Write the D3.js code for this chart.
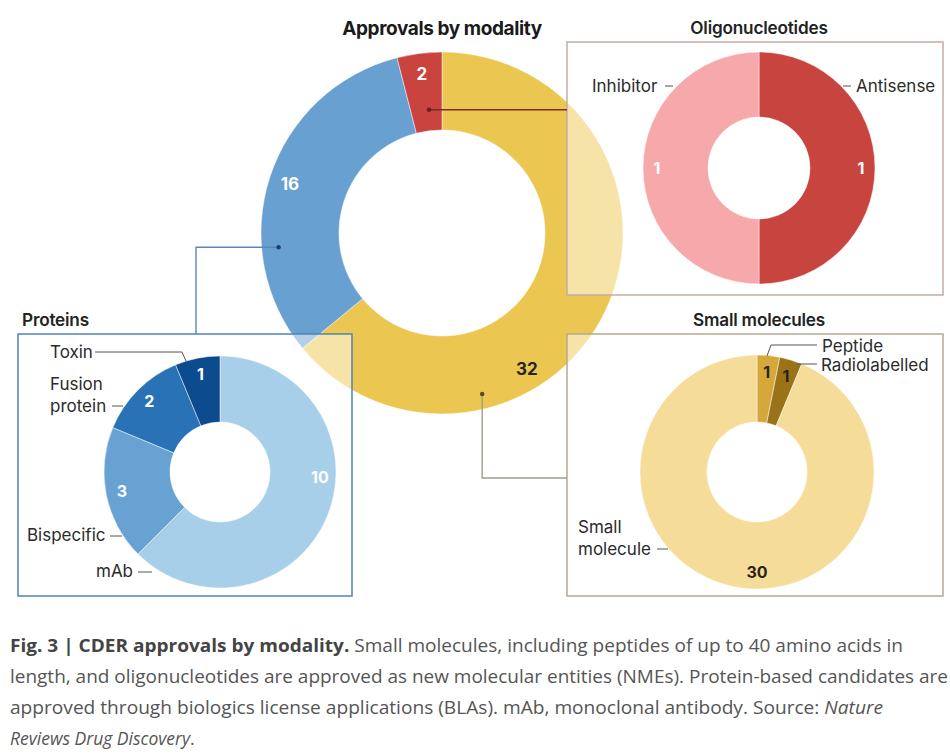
<!DOCTYPE html>
<html>
<head>
<meta charset="utf-8">
<script src="https://cdn.jsdelivr.net/npm/d3@7"></script>
<style>
  body { margin: 0; background: #fff; }
  svg { display: block; }
</style>
</head>
<body>
<svg id="chart" width="950" height="756"></svg>
<script>
// main ring
const mainCats = ["Small molecules", "Proteins", "Oligonucleotides"];
const mainValues = [32, 16, 2];
const mainColors = ["#ebc650", "#68a1d1", "#c9433f"];

// proteins
const proteinCats = ["mAb", "Bispecific", "Fusion protein", "Toxin"];
const proteinValues = [10, 3, 2, 1];
const proteinColors = ["#a8cfea", "#67a2d3", "#2a72b6", "#0c4b8e"];

// oligonucleotides
const oligoCats = ["Antisense", "Inhibitor"];
const oligoValues = [1, 1];
const oligoColors = ["#c8453f", "#f6a8ab"];

// small molecules
const smallCats = ["Peptide", "Radiolabelled", "Small molecule"];
const smallValues = [1, 1, 30];
const smallColors = ["#d6a73a", "#9a7319", "#f5dc98"];

const captionLines = [
    [["b", "Fig. 3 | CDER approvals by modality."], ["r", " Small molecules, including peptides of up to 40 amino acids in"]],
    [["r", "length, and oligonucleotides are approved as new molecular entities (NMEs). Protein-based candidates are"]],
    [["r", "approved through biologics license applications (BLAs). mAb, monoclonal antibody. Source: "], ["i", "Nature"]],
    [["i", "Reviews Drug Discovery"], ["r", "."]],
];

const svg = d3.select("#chart");
const font = "Inter, 'Noto Sans', sans-serif";
const rad = (deg) => (deg * Math.PI) / 180;

function polar(cx, cy, r, deg) {
    return [cx + r * Math.sin(rad(deg)), cy - r * Math.cos(rad(deg))];
}

function drawDonut(g, cats, values, colors, opt) {
    const pie = d3.pie().sort(null).value((d) => d)(values);
    const arc = d3.arc().innerRadius(opt.inner).outerRadius(opt.outer);
    g.selectAll("path")
        .data(pie)
        .join("path")
        .attr("d", arc)
        .attr("fill", (d, i) => colors[i])
        .attr("stroke", "#fff")
        .attr("stroke-opacity", 0.6)
        .attr("stroke-width", 0.8)
        .append("title")
        .text((d, i) => `${cats[i]}: ${d.value}`);

    const labelArc = d3.arc().innerRadius(opt.labelR).outerRadius(opt.labelR);
    g.selectAll("text.val")
        .data(pie)
        .join("text")
        .attr("class", "val")
        .attr("transform", (d, i) => {
            const a = opt.labelAngle && opt.labelAngle[i] != null ? opt.labelAngle[i] : null;
            if (a == null) return `translate(${labelArc.centroid(d)})`;
            return `translate(${polar(0, 0, opt.labelR, a)})`;
        })
        .attr("text-anchor", "middle")
        .attr("dy", "0.36em")
        .attr("font-family", font)
        .attr("font-weight", 700)
        .attr("font-size", opt.fontSize || 16)
        .attr("fill", (d, i) => opt.textColors[i])
        .text((d) => d.value);
    return pie;
}

// ---- main donut
const mainC = [442, 233];
const gMain = svg.append("g").attr("transform", `translate(${mainC})`);
drawDonut(gMain, mainCats, mainValues, mainColors, {
    inner: 103,
    outer: 181,
    labelR: 160,
    labelAngle: [148, null, null],
    fontSize: 17,
    textColors: ["#2a2418", "#fff", "#fff"],
});

// ---- inset boxes (semi-transparent white over main ring)
const boxes = [
    { name: "Oligonucleotides", x: 567, y: 42, w: 376, h: 253, stroke: "#c5aaa6", title: "middle" },
    { name: "Proteins", x: 18, y: 334, w: 334, h: 262, stroke: "#4f82b6", title: "start" },
    { name: "Small molecules", x: 567, y: 334, w: 376, h: 262, stroke: "#b4a992", title: "middle" },
];
boxes.forEach((b) => {
    svg.append("rect")
        .attr("x", b.x)
        .attr("y", b.y)
        .attr("width", b.w)
        .attr("height", b.h)
        .attr("fill", "#fff")
        .attr("fill-opacity", 0.5)
        .attr("stroke", b.stroke)
        .attr("stroke-width", 1.5);
    svg.append("text")
        .attr("x", b.title === "middle" ? b.x + b.w / 2 + 4 : b.x + 4)
        .attr("y", b.y - 8)
        .attr("text-anchor", b.title)
        .attr("font-family", font)
        .attr("font-weight", 600)
        .attr("font-size", 17.2)
        .attr("letter-spacing", -0.2)
        .attr("fill", "#222")
        .text(b.name);
});

svg.append("text")
    .attr("x", 442)
    .attr("y", 35)
    .attr("text-anchor", "middle")
    .attr("font-family", font)
    .attr("font-weight", 700)
    .attr("font-size", 19)
    .attr("letter-spacing", -0.4)
    .attr("fill", "#1a1a1a")
    .text("Approvals by modality");

// ---- connectors
const connectors = [
    { angle: -6, r: 124, stroke: "#7b2d2b", dot: "#6b1e1c", pts: (p) => [p, [567, p[1]]] },
    { angle: 265, r: 164, stroke: "#5a87b8", dot: "#1c3f6b", pts: (p) => [p, [196, p[1]], [196, 334]] },
    { angle: 166, r: 166, stroke: "#a39c8e", dot: "#5a4a2a", pts: (p) => [p, [p[0], 478], [567, 478]] },
];
connectors.forEach((c) => {
    const p = polar(mainC[0], mainC[1], c.r, c.angle);
    svg.append("path")
        .attr("d", d3.line()(c.pts(p)))
        .attr("fill", "none")
        .attr("stroke", c.stroke)
        .attr("stroke-width", 1.4);
    svg.append("circle").attr("cx", p[0]).attr("cy", p[1]).attr("r", 2.2).attr("fill", c.dot);
});

// ---- inset donuts
const gOligo = svg.append("g").attr("transform", "translate(759,168)");
drawDonut(gOligo, oligoCats, oligoValues, oligoColors, {
    inner: 51, outer: 116, labelR: 102, textColors: ["#fff", "#fff"],
});

const gProt = svg.append("g").attr("transform", "translate(220,472)");
drawDonut(gProt, proteinCats, proteinValues, proteinColors, {
    inner: 50, outer: 116, labelR: 100, labelAngle: [93, null, null, null],
    textColors: ["#fff", "#fff", "#fff", "#fff"],
});

const gSmall = svg.append("g").attr("transform", "translate(757,472)");
drawDonut(gSmall, smallCats, smallValues, smallColors, {
    inner: 50, outer: 117, labelR: 100, labelAngle: [null, null, 180],
    textColors: ["#2a2418", "#2a2418", "#2a2418"],
});

// ---- category leader labels
const leaderLabels = [
    { lines: ["Inhibitor"], x: 592, y: 86, lead: [[665, 86], [673, 86]] },
    { lines: ["Antisense"], x: 856, y: 86, lead: [[843, 86], [851, 86]] },
    { lines: ["Toxin"], x: 50, y: 352, lead: [[95, 352], [182, 352], [186, 361]] },
    { lines: ["Fusion", "protein"], x: 50, y: 384, lead: [[112, 406], [123, 406]] },
    { lines: ["Bispecific"], x: 27, y: 535, lead: [[110, 536], [122, 536]] },
    { lines: ["mAb"], x: 96, y: 571, lead: [[138, 572], [152, 572]] },
    { lines: ["Peptide"], x: 822, y: 346, lead: [[767, 356], [771, 345], [817, 345]] },
    { lines: ["Radiolabelled"], x: 821, y: 365, lead: [[797, 364], [817, 364]] },
    { lines: ["Small", "molecule"], x: 578, y: 527, lead: [[657, 549], [668, 549]] },
];
leaderLabels.forEach((l) => {
    const t = svg.append("text")
        .attr("x", l.x)
        .attr("y", l.y)
        .attr("font-family", font)
        .attr("font-size", 17)
        .attr("fill", "#2b2b2b");
    l.lines.forEach((s, i) => {
        t.append("tspan").attr("x", l.x).attr("dy", i === 0 ? "0.35em" : "1.28em").text(s);
    });
    svg.append("path")
        .attr("d", d3.line()(l.lead))
        .attr("fill", "none")
        .attr("stroke", "#555")
        .attr("stroke-width", 1);
});

// ---- caption
const capFont = "'Open Sans', 'Noto Sans', sans-serif";
const capY = [652, 683, 714, 745];
const capW = [893, 938, 873, null];
captionLines.forEach((parts, i) => {
    const t = svg.append("text")
        .attr("x", 10)
        .attr("y", capY[i])
        .attr("font-family", capFont)
        .attr("font-size", 17.5)
        .attr("fill", "#555");
    if (capW[i]) t.attr("textLength", capW[i]).attr("lengthAdjust", "spacingAndGlyphs");
    parts.forEach(([k, s]) => {
        t.append("tspan")
            .attr("font-weight", k === "b" ? 700 : 400)
            .attr("font-style", k === "i" ? "italic" : "normal")
            .attr("fill", k === "b" ? "#444" : "#555")
            .text(s);
    });
});
</script>
</body>
</html>
